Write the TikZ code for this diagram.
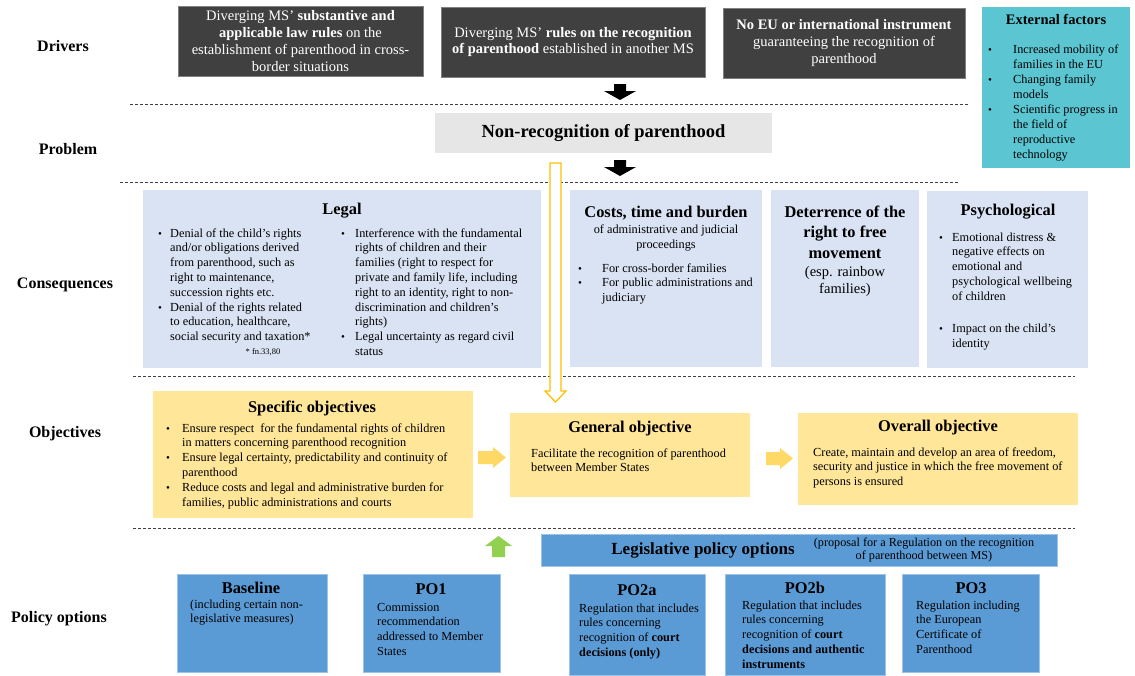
\documentclass[tikz,border=0pt]{standalone}
\usepackage{fontspec}
\setmainfont{Liberation Serif}
\usepackage{array}
\definecolor{drvgray}{HTML}{404040}
\definecolor{drvedge}{HTML}{808080}
\definecolor{extteal}{HTML}{5BC6D2}
\definecolor{probgray}{HTML}{E7E6E6}
\definecolor{consblue}{HTML}{DAE3F3}
\definecolor{objyellow}{HTML}{FFE699}
\definecolor{arryellow}{HTML}{FFD966}
\definecolor{hollowyel}{HTML}{FFC000}
\definecolor{polblue}{HTML}{5B9BD5}
\definecolor{poledge}{HTML}{9DC3E6}
\definecolor{arrgreen}{HTML}{92D050}
\newcommand\bul{{\fontsize{11}{11}\selectfont\textbullet}}
\newcommand\txtl[1]{\begin{tabular}{@{}l@{}}#1\end{tabular}}
\newcommand\txtc[1]{\begin{tabular}{@{}c@{}}#1\end{tabular}}
\newcommand\blst[2]{\begin{tabular}{@{}p{#1}@{}l@{}}#2\end{tabular}}
\tikzset{
 lab/.style={font=\fontsize{16}{19}\selectfont\bfseries, inner sep=0},
 bx/.style={anchor=north west, inner sep=0, outer sep=0},
 drv/.style={bx, fill=drvgray, draw=drvedge, line width=0.8pt, text=white, align=center, font=\fontsize{14.5}{16.7}\selectfont},
 pol/.style={bx, fill=polblue, draw=poledge, line width=0.8pt},
 ttl/.style={font=\fontsize{16.4}{20.5}\selectfont\bfseries, inner sep=0, align=center},
 txt/.style={anchor=north west, inner sep=0, font=\fontsize{12.3}{14.8}\selectfont, align=left},
 ctxt/.style={inner sep=0, font=\fontsize{12.3}{14.8}\selectfont, align=center},
 dline/.style={draw=black!75, line width=0.7pt, dash pattern=on 3pt off 2pt},
}
\begin{document}
\begin{tikzpicture}[x=1pt,y=-1pt]
\useasboundingbox (0,0) rectangle (1135,675);

% ---------- row labels
\node[lab] (lDrivers) at (63,46) {Drivers};
\node[lab] (lProblem) at (68,149) {Problem};
\node[lab] (lCons) at (65,285) {Consequences};
\node[lab] (lObj) at (65,434) {Objectives};
\node[lab] (lPol) at (59,619) {Policy options};

% ---------- dashed separators
\coordinate (sA1) at (130,104); \coordinate (sA2) at (968,104);
\coordinate (sB1) at (120,182); \coordinate (sB2) at (959,182);
\coordinate (sC1) at (133,376); \coordinate (sC2) at (1075,376);
\coordinate (sD1) at (133,528); \coordinate (sD2) at (1075,528);
\draw[dline] (sA1) -- (sA2);
\draw[dline] (sB1) -- (sB2);
\draw[dline] (sC1) -- (sC2);
\draw[dline] (sD1) -- (sD2);

% ---------- drivers
\node[drv, minimum width=245pt, minimum height=70pt] (d1) at (178,6)
 {Diverging MS’ \textbf{substantive and}\\\textbf{applicable law rules} on the\\establishment of parenthood in cross-\\border situations};
\node[drv, minimum width=264pt, minimum height=70pt] (d2) at (441,7)
 {Diverging MS’ \textbf{rules on the recognition}\\\textbf{of parenthood} established in another MS};
\node[drv, minimum width=242pt, minimum height=70pt] (d3) at (723,8)
 {\textbf{No EU or international instrument}\\guaranteeing the recognition of\\parenthood};

% ---------- external factors
\node[bx, fill=extteal, minimum width=148pt, minimum height=161pt] (ext) at (982,7) {};
\node[font=\fontsize{14.5}{17}\selectfont\bfseries, inner sep=0] (extT) at (1056,19) {External factors};
\node[txt, font=\fontsize{12.3}{15}\selectfont] (extL) at (988,42.5) {\blst{25pt}{%
\bul & Increased mobility of\\
 & families in the EU\\
\bul & Changing family\\
 & models\\
\bul & Scientific progress in\\
 & the field of\\
 & reproductive\\
 & technology}};

% ---------- problem
\fill[black] (614,84) -- (626,84) -- (626,91) -- (636,91) -- (620,100) -- (604,91) -- (614,91) -- cycle;
\node[bx, fill=probgray, minimum width=337pt, minimum height=40pt, font=\fontsize{18.5}{22}\selectfont\bfseries] (prob) at (435,113) {Non-recognition of parenthood};
\fill[black] (614,160) -- (626,160) -- (626,167) -- (636,167) -- (620,176) -- (604,167) -- (614,167) -- cycle;

% ---------- consequences
\node[bx, fill=consblue, minimum width=398pt, minimum height=178pt] (legal) at (143,190) {};
\node[ttl] (legalT) at (342,211) {Legal};
\node[txt] (legalL) at (158,226.5) {\blst{12pt}{%
\bul & Denial of the child’s rights\\
 & and/or obligations derived\\
 & from parenthood, such as\\
 & right to maintenance,\\
 & succession rights etc.\\
\bul & Denial of the rights related\\
 & to education, healthcare,\\
 & social security and taxation*}};
\node[inner sep=0, font=\fontsize{8.5}{10}\selectfont] (fn) at (263,352) {* fn.33,80};
\node[txt] (legalR) at (341,226.5) {\blst{14pt}{%
\bul & Interference with the fundamental\\
 & rights of children and their\\
 & families (right to respect for\\
 & private and family life, including\\
 & right to an identity, right to non-\\
 & discrimination and children’s\\
 & rights)\\
\bul & Legal uncertainty as regard civil\\
 & status}};

\node[bx, fill=consblue, minimum width=192pt, minimum height=177pt] (costs) at (570,190) {};
\node[ttl] (costsT) at (666,213) {Costs, time and burden};
\node[ctxt] (costsS) at (666,238) {\txtc{of administrative and judicial\\proceedings}};
\node[txt] (costsL) at (578,261.5) {\blst{24pt}{%
\bul & For cross-border families\\
\bul & For public administrations and\\
 & judiciary}};

\node[bx, fill=consblue, minimum width=148pt, minimum height=177pt] (deter) at (771,190) {};
\node[ttl] (deterT) at (845,233.5) {\txtc{Deterrence of the\\right to free\\movement}};
\node[inner sep=0, font=\fontsize{14.5}{17}\selectfont] (deterS) at (845,282) {\txtc{(esp. rainbow\\families)}};

\node[bx, fill=consblue, minimum width=161pt, minimum height=177pt] (psych) at (927,191) {};
\node[ttl] (psychT) at (1008,212) {Psychological};
\node[txt] (psychL) at (939,230.5) {\blst{13pt}{%
\bul & Emotional distress \&\\
 & negative effects on\\
 & emotional and\\
 & psychological wellbeing\\
 & of children\\
 & \\[2.4pt]
\bul & Impact on the child’s\\
 & identity}};

% ---------- hollow arrow from problem to general objective
\draw[hollowyel, fill=white, line width=1.3pt, line join=miter] (550,163) -- (561,163) -- (561,391) -- (566,391) -- (555.5,402) -- (545,391) -- (550,391) -- cycle;

% ---------- objectives
\node[bx, fill=objyellow, minimum width=320pt, minimum height=127pt] (spec) at (153,391) {};
\node[ttl] (specT) at (312,408) {Specific objectives};
\node[txt] (specL) at (166,421.5) {\blst{16pt}{%
\bul & Ensure respect\ \ for the fundamental rights of children\\
 & in matters concerning parenthood recognition\\
\bul & Ensure legal certainty, predictability and continuity of\\
 & parenthood\\
\bul & Reduce costs and legal and administrative burden for\\
 & families, public administrations and courts}};

\fill[arryellow] (478,451) -- (493,451) -- (493,447) -- (506,457.5) -- (493,468) -- (493,464) -- (478,464) -- cycle;

\node[bx, fill=objyellow, minimum width=240pt, minimum height=84pt] (gen) at (510,413) {};
\node[ttl] (genT) at (630,429) {General objective};
\node[txt] (genL) at (531,446.5) {\txtl{Facilitate the recognition of parenthood\\between Member States}};

\fill[arryellow] (766,452) -- (780,452) -- (780,448) -- (793,458.5) -- (780,469) -- (780,465) -- (766,465) -- cycle;

\node[bx, fill=objyellow, minimum width=280pt, minimum height=92pt] (over) at (798,413) {};
\node[ttl] (overT) at (938,428) {Overall objective};
\node[txt] (overL) at (813,445.5) {\txtl{Create, maintain and develop an area of freedom,\\security and justice in which the free movement of\\persons is ensured}};

% ---------- policy options
\fill[arrgreen] (492,557) -- (492,546) -- (485,546) -- (498.5,536) -- (512,546) -- (505,546) -- (505,557) -- cycle;

\node[pol, minimum width=516pt, minimum height=32pt] (legis) at (541,534) {};
\node[font=\fontsize{17}{20}\selectfont\bfseries, inner sep=0] (legisT) at (703,550) {Legislative policy options};
\node[inner sep=0, font=\fontsize{12.2}{13.5}\selectfont] (legisS) at (924,550.5) {\txtc{(proposal for a Regulation on the recognition\\of parenthood between MS)}};

\node[pol, minimum width=150pt, minimum height=98pt] (base) at (177,574) {};
\node[ttl] (baseT) at (251,588) {Baseline};
\node[txt] (baseL) at (190,597.5) {\txtl{(including certain non-\\legislative measures)}};

\node[pol, minimum width=137pt, minimum height=98pt] (po1) at (363,574) {};
\node[ttl] (po1T) at (431,589) {PO1};
\node[txt] (po1L) at (377,600.5) {\txtl{Commission\\recommendation\\addressed to Member\\States}};

\node[pol, minimum width=136pt, minimum height=101pt] (po2a) at (569,574) {};
\node[ttl] (po2aT) at (637,590) {PO2a};
\node[txt] (po2aL) at (579,601.5) {\txtl{Regulation that includes\\rules concerning\\recognition of \textbf{court}\\\textbf{decisions (only)}}};

\node[pol, minimum width=160pt, minimum height=101pt] (po2b) at (725,574) {};
\node[ttl] (po2bT) at (805,588) {PO2b};
\node[txt] (po2bL) at (742,598.5) {\txtl{Regulation that includes\\rules concerning\\recognition of \textbf{court}\\\textbf{decisions and authentic}\\\textbf{instruments}}};

\node[pol, minimum width=137pt, minimum height=98pt] (po3) at (902,574) {};
\node[ttl] (po3T) at (971,588) {PO3};
\node[txt] (po3L) at (916,598.5) {\txtl{Regulation including\\the European\\Certificate of\\Parenthood}};
\end{tikzpicture}
\end{document}
